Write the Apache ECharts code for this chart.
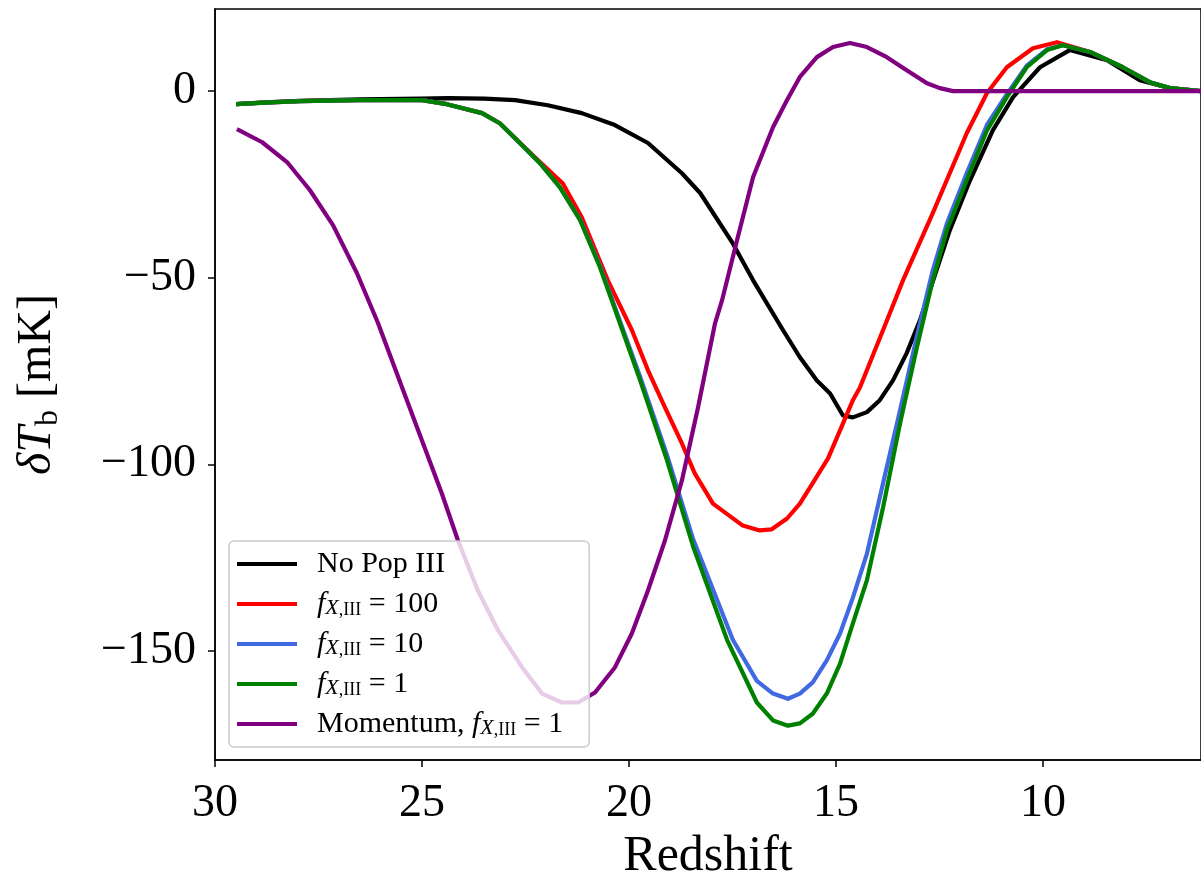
<!DOCTYPE html>
<html>
<head>
<meta charset="utf-8">
<script src="https://cdn.jsdelivr.net/npm/echarts@6/dist/echarts.min.js"></script>
<style>html,body{margin:0;padding:0;background:#fff;}#chart{width:1201px;height:879px;}</style>
</head>
<body>
<div id="chart"></div>
<script>
// ---- Data ----
const seriesNames = ['No Pop III', 'fX,III = 100', 'fX,III = 10', 'fX,III = 1', 'Momentum, fX,III = 1'];

const zNoPop = [29.49, 28.8, 27.95, 26.5, 25.0, 24.37, 23.5, 22.75, 21.96, 21.14, 20.34, 19.54, 18.72, 18.28, 17.49, 17.0, 16.28, 15.87, 15.46, 15.14, 14.83, 14.59, 14.25, 13.94, 13.62, 13.29, 12.97, 12.73, 12.25, 11.76, 11.21, 10.72, 10.07, 9.35, 8.45, 7.66, 6.93, 6.18];
const tNoPop = [-3.5, -3.0, -2.6, -2.2, -2.0, -1.9, -2.0, -2.4, -3.8, -5.9, -9.1, -13.9, -22, -27.3, -40.8, -50.7, -64, -71.3, -77.5, -81, -86.9, -87.4, -86, -82.8, -77.5, -70.2, -61.4, -53.4, -37.3, -23.9, -10.5, -1.6, 6.4, 11, 8.3, 2.9, 0.8, 0];

const zF100 = [29.49, 28.8, 27.95, 26.5, 25.0, 24.4, 23.55, 23.12, 22.75, 22.15, 21.6, 21.14, 20.51, 19.93, 19.54, 19.13, 18.72, 18.41, 17.97, 17.25, 16.84, 16.55, 16.18, 15.87, 15.56, 15.19, 14.90, 14.59, 14.42, 13.86, 13.38, 12.66, 11.84, 11.35, 10.87, 10.24, 9.66, 8.86, 8.07, 7.42, 6.93, 6.18];
const tF100 = [-3.5, -3.1, -2.7, -2.4, -2.4, -3.5, -5.9, -8.6, -12.6, -19, -24.7, -33.8, -50.7, -64, -74.8, -84.7, -94.4, -102.4, -110.5, -116.4, -117.7, -117.4, -114.5, -110.5, -105, -98.4, -90.9, -82.8, -79.4, -64, -50.7, -32.7, -11.3, -0.5, 6.4, 11.5, 13.1, 10.5, 6.4, 2.4, 0.8, 0];

const zF10 = [29.49, 28.8, 27.95, 26.5, 25.0, 24.4, 23.55, 23.12, 22.75, 22.15, 21.67, 21.18, 20.70, 20.27, 19.73, 19.08, 18.45, 17.49, 16.91, 16.52, 16.16, 15.87, 15.56, 15.22, 14.90, 14.59, 14.25, 13.86, 13.45, 13.05, 12.66, 12.32, 11.84, 11.35, 10.87, 10.39, 9.90, 9.52, 8.86, 8.07, 7.42, 6.93, 6.18];
const tF10 = [-3.5, -3.1, -2.7, -2.4, -2.4, -3.5, -5.9, -8.6, -12.6, -19.3, -25.7, -34.4, -46.8, -60, -76.5, -97.5, -120, -147, -158, -161.4, -162.8, -161.4, -158.4, -152.5, -145.3, -135.7, -123.9, -105, -85.5, -66, -48, -35.5, -22, -9, -0.8, 6.8, 11.2, 12.3, 10.5, 6.4, 2.4, 0.8, 0];

const zF1 = [29.49, 28.8, 27.95, 26.5, 25.0, 24.4, 23.55, 23.12, 22.75, 22.15, 21.67, 21.18, 20.70, 20.27, 19.73, 19.08, 18.45, 17.63, 16.91, 16.52, 16.16, 15.87, 15.56, 15.22, 14.90, 14.59, 14.25, 13.86, 13.45, 13.05, 12.66, 12.32, 11.84, 11.35, 10.87, 10.39, 9.90, 9.52, 8.86, 8.07, 7.42, 6.93, 6.18];
const tF1 = [-3.5, -3.1, -2.7, -2.4, -2.4, -3.5, -5.9, -8.6, -12.6, -19.3, -25.7, -34.6, -47.2, -60.6, -77.5, -98.9, -122, -147, -163.8, -168.6, -170, -169.4, -166.8, -161.4, -153.4, -142.6, -131, -111.5, -89, -69, -50.7, -37.3, -23.9, -10.5, -1.6, 6.4, 11, 12.3, 10.5, 6.4, 2.4, 0.8, 0];

const zMom = [29.47, 28.86, 28.26, 27.71, 27.15, 26.57, 26.06, 25.48, 25.0, 24.52, 24.13, 23.65, 23.16, 22.58, 22.10, 21.62, 21.23, 20.82, 20.34, 19.93, 19.54, 19.13, 18.72, 18.33, 17.92, 17.75, 17.39, 17.0, 16.52, 16.18, 15.87, 15.46, 15.07, 14.66, 14.25, 13.77, 13.29, 12.80, 12.49, 12.17, 6.18];
const tMom = [-10.2, -13.7, -19, -26.5, -35.9, -48.8, -62.2, -79.4, -93.6, -107.8, -120.4, -133.8, -144.5, -154.4, -161.4, -163.8, -163.8, -161.1, -154.4, -145.3, -133.8, -120.4, -104.3, -84.7, -62.2, -56, -40, -23, -9.7, -2.4, 3.8, 9.1, 11.8, 12.9, 11.8, 9.1, 5.6, 2.1, 0.8, 0, 0];

const xTicks = [30, 25, 20, 15, 10];
const yTicks = [0, -50, -100, -150];

// ---- Chart ----
const colors = ['#000000', '#ff0000', '#4169e1', '#008000', '#800080'];
const zs = [zNoPop, zF100, zF10, zF1, zMom];
const ts = [tNoPop, tF100, tF10, tF1, tMom];
const FONT = 'Liberation Serif';

function pairs(z, t) { return z.map((v, i) => [v, t[i]]); }

const legendLabels = {
  'No Pop III': '{rm|No Pop III}',
  'fX,III = 100': '{it|f}{sx|X}{sr|,III}{rm| = 100}',
  'fX,III = 10': '{it|f}{sx|X}{sr|,III}{rm| = 10}',
  'fX,III = 1': '{it|f}{sx|X}{sr|,III}{rm| = 1}',
  'Momentum, fX,III = 1': '{rm|Momentum, }{it|f}{sx|X}{sr|,III}{rm| = 1}'
};

const chart = echarts.init(document.getElementById('chart'), null, { renderer: 'canvas' });
chart.setOption({
  animation: false,
  backgroundColor: '#ffffff',
  grid: { left: 215, top: 9, width: 986, height: 751, show: true, borderColor: '#000', borderWidth: 1.5,
          backgroundColor: 'transparent', containLabel: false, outerBoundsMode: 'none' },
  xAxis: {
    type: 'value', inverse: true, min: 6.18, max: 30,
    name: 'Redshift', nameLocation: 'middle', nameGap: 70,
    nameTextStyle: { fontFamily: FONT, fontSize: 50, color: '#000' },
    axisLine: { show: true, onZero: false, lineStyle: { color: '#000', width: 1.5 } },
    axisTick: { show: true, length: 7, lineStyle: { color: '#000', width: 1.5 }, customValues: xTicks },
    axisLabel: { fontFamily: FONT, fontSize: 46, color: '#000', margin: 21, customValues: xTicks },
    splitLine: { show: false }
  },
  yAxis: {
    type: 'value', min: -179.2, max: 22.0,
    name: '{it|δT}{sub|b}{rm| [mK]}', nameLocation: 'middle', nameGap: 150, nameRotate: 90,
    nameTextStyle: {
      rich: {
        it: { fontFamily: FONT, fontStyle: 'italic', fontSize: 48, lineHeight: 56, color: '#000' },
        sub: { fontFamily: FONT, fontSize: 32, lineHeight: 28, verticalAlign: 'bottom', color: '#000' },
        rm: { fontFamily: FONT, fontSize: 48, lineHeight: 56, color: '#000' }
      }
    },
    axisLine: { show: true, onZero: false, lineStyle: { color: '#000', width: 1.5 } },
    axisTick: { show: true, length: 7, lineStyle: { color: '#000', width: 1.5 }, customValues: yTicks },
    axisLabel: {
      fontFamily: FONT, fontSize: 46, color: '#000', margin: 19, customValues: yTicks,
      formatter: v => (v < 0 ? '\u2212' + Math.abs(v) : String(v))
    },
    splitLine: { show: false }
  },
  legend: {
    orient: 'vertical', left: 229, top: 541,
    padding: [8, 26, 8, 8], itemGap: 10,
    itemWidth: 60, itemHeight: 4, icon: 'rect',
    backgroundColor: 'rgba(255,255,255,0.8)', borderColor: '#cccccc', borderWidth: 1.5, borderRadius: 5,
    data: seriesNames,
    formatter: name => legendLabels[name],
    textStyle: {
      padding: [0, 0, 0, 15],
      rich: {
        rm: { fontFamily: FONT, fontSize: 30, lineHeight: 30, color: '#000' },
        it: { fontFamily: FONT, fontStyle: 'italic', fontSize: 30, lineHeight: 30, color: '#000' },
        sx: { fontFamily: FONT, fontStyle: 'italic', fontSize: 22, lineHeight: 12, verticalAlign: 'bottom', color: '#000' },
        sr: { fontFamily: FONT, fontSize: 18, lineHeight: 12, verticalAlign: 'bottom', color: '#000' }
      }
    }
  },
  series: seriesNames.map((n, i) => ({
    name: n, type: 'line', data: pairs(zs[i], ts[i]),
    showSymbol: false, symbol: 'none', smooth: false, clip: true,
    lineStyle: { color: colors[i], width: 4.2, join: 'round' },
    itemStyle: { color: colors[i] },
    emphasis: { disabled: true }, z: 2 + i * 0.01
  }))
});
</script>
</body>
</html>
